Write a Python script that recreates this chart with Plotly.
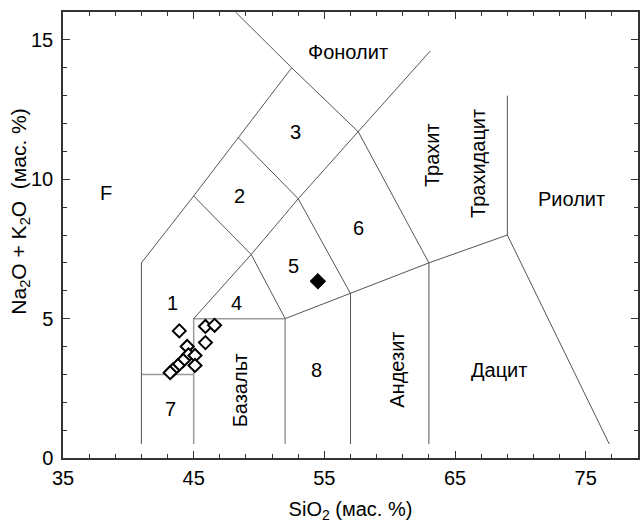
import plotly.graph_objects as go

# ---- data ----
# TAS field boundaries (SiO2, Na2O+K2O), dark lines
bound_dark = [
    [(41, 0.5), (41, 7), (45, 9.4), (48.4, 11.5), (52.5, 14)],
    [(48.2, 16), (52.5, 14), (57.6, 11.7), (63, 7)],
    [(45, 9.4), (49.4, 7.3), (53, 9.3), (48.4, 11.5)],
    [(45, 5), (49.4, 7.3), (52, 5)],
    [(53, 9.3), (57, 5.9)],
    [(52, 5), (57, 5.9), (63, 7), (69, 8), (76.8, 0.5)],
    [(53, 9.3), (57.6, 11.7), (63.1, 14.6)],
    [(69, 8), (69, 13)],
    [(57, 0.5), (57, 5.9)],
    [(63, 0.5), (63, 7)],
]
# lighter boundaries
bound_light = [
    [(41, 3), (45, 3)],
    [(45, 0.5), (45, 5), (52, 5), (52, 0.5)],
]

open_sio2 = [43.9, 45.9, 46.6, 45.9, 44.5, 44.6, 45.1, 44.2, 45.1, 43.8, 43.4, 43.2]
open_alk = [4.56, 4.72, 4.76, 4.14, 4.0, 3.7, 3.68, 3.5, 3.32, 3.32, 3.15, 3.06]
filled_sio2 = [54.5]
filled_alk = [6.34]

field_labels = ["F", "1", "2", "3", "4", "5", "6", "7", "8", "Фонолит", "Риолит", "Дацит"]
field_x = [38.3, 43.4, 48.5, 52.8, 48.3, 52.6, 57.6, 43.2, 54.4, 56.8, 73.9, 68.4]
field_y = [9.5, 5.56, 9.4, 11.7, 5.56, 6.9, 8.25, 1.77, 3.17, 14.56, 9.3, 3.17]

rot_labels = ["Базальт", "Андезит", "Трахит", "Трахидацит"]
rot_x = [48.55, 60.6, 63.2, 66.7]
rot_y = [2.43, 3.15, 10.85, 10.56]

FONT = "Liberation Sans, Arial, sans-serif"

fig = go.Figure()

def add_segments(segs, color, width):
    for seg in segs:
        xs = [p[0] for p in seg]
        ys = [p[1] for p in seg]
        fig.add_trace(go.Scatter(x=xs, y=ys, mode="lines",
                                 line=dict(color=color, width=width),
                                 hoverinfo="skip", showlegend=False))

add_segments(bound_light, "#9a9a9a", 1.5)
add_segments(bound_dark, "#555555", 1)

fig.add_trace(go.Scatter(x=open_sio2, y=open_alk, mode="markers",
                         marker=dict(symbol="diamond", size=10, color="white",
                                     line=dict(color="black", width=2)),
                         showlegend=False))
fig.add_trace(go.Scatter(x=filled_sio2, y=filled_alk, mode="markers",
                         marker=dict(symbol="diamond", size=12, color="black",
                                     line=dict(color="black", width=1)),
                         showlegend=False))

for t, x, y in zip(field_labels, field_x, field_y):
    fig.add_annotation(x=x, y=y, text=t, showarrow=False,
                       font=dict(family=FONT, size=20, color="black"))
for t, x, y in zip(rot_labels, rot_x, rot_y):
    fig.add_annotation(x=x, y=y, text=t, showarrow=False, textangle=-90,
                       font=dict(family=FONT, size=20, color="black"))

# y-axis title placed as annotation (offset upward as in the reference)
fig.add_annotation(xref="paper", yref="paper", x=-0.075, y=0.552,
                   text="Na<sub>2</sub>O + K<sub>2</sub>O  (мас. %)",
                   textangle=-90, showarrow=False,
                   xanchor="center", yanchor="middle",
                   font=dict(family=FONT, size=21, color="black"))

axis_common = dict(
    showgrid=False, zeroline=False, showline=True, linecolor="#333333",
    linewidth=1.5, mirror="allticks", ticks="inside", tickcolor="#333333",
    ticklen=7, tickwidth=1.2,
    tickfont=dict(family=FONT, size=20, color="black"),
)

fig.update_xaxes(range=[35, 79], tickvals=[35, 45, 55, 65, 75],
                 minor=dict(dtick=2, tick0=35, ticks="inside", ticklen=4,
                            tickcolor="#333333", tickwidth=1.2),
                 title=dict(text="SiO<sub>2</sub> (мас. %)",
                            font=dict(family=FONT, size=20, color="black"),
                            standoff=14),
                 ticklabelstandoff=1,
                 **axis_common)
fig.update_yaxes(range=[0, 16], tickvals=[0, 5, 10, 15],
                 minor=dict(dtick=1, ticks="inside", ticklen=4,
                            tickcolor="#333333", tickwidth=1.2),
                 ticklabelstandoff=4,
                 **axis_common)

fig.update_layout(
    width=640, height=525,
    margin=dict(l=63, r=0, t=12, b=67),
    plot_bgcolor="white", paper_bgcolor="white",
    font=dict(family=FONT, color="black"),
    showlegend=False,
)

fig.write_html("out.html")
